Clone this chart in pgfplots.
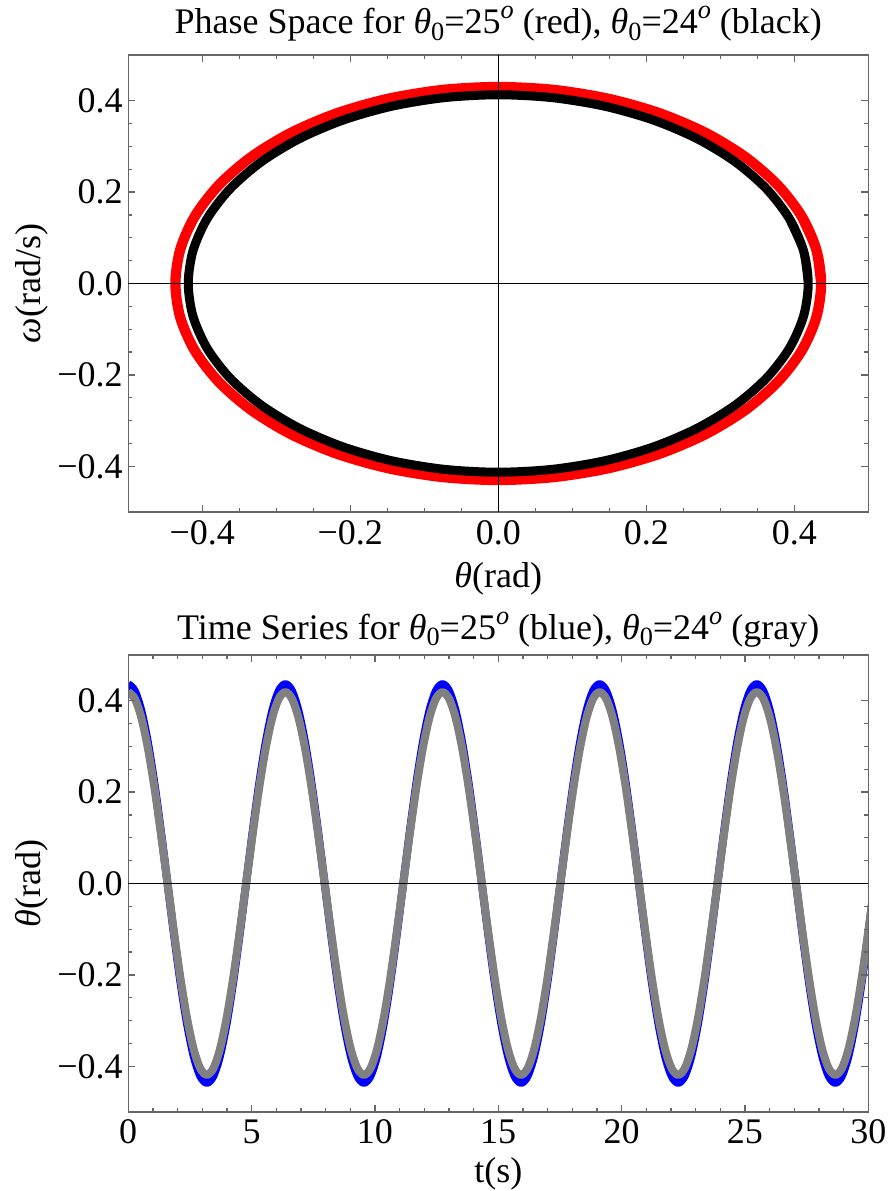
\documentclass[border=0pt]{standalone}
\usepackage{fontspec}
\setmainfont{Liberation Serif}
\usepackage{pgfplots}
\pgfplotsset{compat=1.18}
\usepackage{pgfplotstable}
\newcommand{\fs}{\fontsize{14.4}{17}\selectfont}
\newcommand{\thz}{\textit{θ}\raisebox{-0.4ex}{\fontsize{10.5}{12}\selectfont 0}}
\newcommand{\sups}{\raisebox{0.9ex}{\fontsize{10.5}{12}\selectfont\itshape o}}

\pgfplotstableread{
t blue gray
0.000 0.4363 0.4189
0.265 0.4214 0.4046
0.531 0.3778 0.3628
0.796 0.3085 0.2962
1.062 0.2182 0.2095
1.327 0.1129 0.1084
1.593 0 0
1.858 -0.1129 -0.1084
2.123 -0.2182 -0.2095
2.389 -0.3085 -0.2962
2.654 -0.3778 -0.3628
2.920 -0.4214 -0.4046
3.185 -0.4363 -0.4189
3.450 -0.4214 -0.4046
3.716 -0.3778 -0.3628
3.981 -0.3085 -0.2962
4.247 -0.2182 -0.2095
4.512 -0.1129 -0.1084
4.778 0 0
5.043 0.1129 0.1084
5.308 0.2182 0.2095
5.574 0.3085 0.2962
5.839 0.3778 0.3628
6.105 0.4214 0.4046
6.370 0.4363 0.4189
6.635 0.4214 0.4046
6.901 0.3778 0.3628
7.166 0.3085 0.2962
7.432 0.2182 0.2095
7.697 0.1129 0.1084
7.963 0 0
8.228 -0.1129 -0.1084
8.493 -0.2182 -0.2095
8.759 -0.3085 -0.2962
9.024 -0.3778 -0.3628
9.290 -0.4214 -0.4046
9.555 -0.4363 -0.4189
9.820 -0.4214 -0.4046
10.086 -0.3778 -0.3628
10.351 -0.3085 -0.2962
10.617 -0.2182 -0.2095
10.882 -0.1129 -0.1084
11.148 0 0
11.413 0.1129 0.1084
11.678 0.2182 0.2095
11.944 0.3085 0.2962
12.209 0.3778 0.3628
12.475 0.4214 0.4046
12.740 0.4363 0.4189
13.005 0.4214 0.4046
13.271 0.3778 0.3628
13.536 0.3085 0.2962
13.802 0.2182 0.2095
14.067 0.1129 0.1084
14.333 0 0
14.598 -0.1129 -0.1084
14.863 -0.2182 -0.2095
15.129 -0.3085 -0.2962
15.394 -0.3778 -0.3628
15.660 -0.4214 -0.4046
15.925 -0.4363 -0.4189
16.190 -0.4214 -0.4046
16.456 -0.3778 -0.3628
16.721 -0.3085 -0.2962
16.987 -0.2182 -0.2095
17.252 -0.1129 -0.1084
17.518 0 0
17.783 0.1129 0.1084
18.048 0.2182 0.2095
18.314 0.3085 0.2962
18.579 0.3778 0.3628
18.845 0.4214 0.4046
19.110 0.4363 0.4189
19.375 0.4214 0.4046
19.641 0.3778 0.3628
19.906 0.3085 0.2962
20.172 0.2182 0.2095
20.437 0.1129 0.1084
20.703 0 0
20.968 -0.1129 -0.1084
21.233 -0.2182 -0.2095
21.499 -0.3085 -0.2962
21.764 -0.3778 -0.3628
22.030 -0.4214 -0.4046
22.295 -0.4363 -0.4189
22.560 -0.4214 -0.4046
22.826 -0.3778 -0.3628
23.091 -0.3085 -0.2962
23.357 -0.2182 -0.2095
23.622 -0.1129 -0.1084
23.888 0 0
24.153 0.1129 0.1084
24.418 0.2182 0.2095
24.684 0.3085 0.2962
24.949 0.3778 0.3628
25.215 0.4214 0.4046
25.480 0.4363 0.4189
25.745 0.4214 0.4046
26.011 0.3778 0.3628
26.276 0.3085 0.2962
26.542 0.2182 0.2095
26.807 0.1129 0.1084
27.073 0 0
27.338 -0.1129 -0.1084
27.603 -0.2182 -0.2095
27.869 -0.3085 -0.2962
28.134 -0.3778 -0.3628
28.400 -0.4214 -0.4046
28.665 -0.4363 -0.4189
28.930 -0.4214 -0.4046
29.196 -0.3778 -0.3628
29.461 -0.3085 -0.2962
29.727 -0.2182 -0.2095
29.992 -0.1129 -0.1084
30.258 0 0
30.523 0.1129 0.1084
}\timeseries

\pgfplotsset{mystyle/.style={
  scale only axis, width=296pt, height=182.8pt,
  axis line style={draw=black!60, line width=0.5pt},
  tick style={draw=black!60, line width=0.5pt},
  tick align=inside,
  major tick length=2.8pt, minor tick length=1.7pt,
  tick label style={font=\fs},
  yticklabel style={inner xsep=0pt, xshift=-2pt},
  every axis y label/.style={at={(axis description cs:-0.119,0.5)}, rotate=90, anchor=base, font=\fs},
  every axis title shift=0pt,
  title style={at={(axis description cs:0.5,1)}, anchor=base, font=\fs},
  axis on top,
  ymin=-0.5, ymax=0.5,
  ytick={-0.4,-0.2,0,0.2,0.4},
  yticklabels={−0.4,−0.2,0.0,0.2,0.4},
  minor y tick num=3,
  extra y ticks={0}, extra y tick labels={},
  extra y tick style={grid=major, major grid style={black, line width=0.45pt}, tick style={draw=none}},
}}

\begin{document}
\begin{tikzpicture}
\useasboundingbox (-51.3pt,-271.6pt) rectangle (305.1pt,204.8pt);
\begin{axis}[mystyle,
  at={(0pt,0pt)}, anchor=south west,
  xmin=-0.5, xmax=0.5,
  xtick={-0.4,-0.2,0,0.2,0.4},
  xticklabels={−0.4,−0.2,0.0,0.2,0.4},
  minor x tick num=3,
  xticklabel style={anchor=base, yshift=-12.8pt},
  every axis x label/.style={at={(axis description cs:0.5,0)}, anchor=base, yshift=-30pt, font=\fs},
  extra x ticks={0}, extra x tick labels={},
  extra x tick style={grid=major, major grid style={black, line width=0.45pt}, tick style={draw=none}},
  title style={yshift=8.6pt},
  title={Phase Space for \thz=25\sups{} (red), \thz=24\sups{} (black)},
  xlabel={\textit{θ}(rad)},
  ylabel={\textit{ω}(rad/s)},
]
\addplot[red, line width=4.1pt, smooth, line join=round] coordinates {
(0.4363,0)(0.4297,0.0746)(0.4100,0.1471)(0.3778,0.2150)(0.3342,0.2764)(0.2805,0.3294)(0.2182,0.3724)(0.1492,0.4041)(0.0757,0.4235)(0,0.430)
(-0.0757,0.4235)(-0.1492,0.4041)(-0.2182,0.3724)(-0.2805,0.3294)(-0.3342,0.2764)(-0.3778,0.2150)(-0.4100,0.1471)(-0.4297,0.0746)(-0.4363,0)
(-0.4297,-0.0746)(-0.4100,-0.1471)(-0.3778,-0.2150)(-0.3342,-0.2764)(-0.2805,-0.3294)(-0.2182,-0.3724)(-0.1492,-0.4041)(-0.0757,-0.4235)(0,-0.430)
(0.0757,-0.4235)(0.1492,-0.4041)(0.2182,-0.3724)(0.2805,-0.3294)(0.3342,-0.2764)(0.3778,-0.2150)(0.4100,-0.1471)(0.4297,-0.0746)(0.4363,0)(0.4297,0.0746)(0.4100,0.1471)
};
\addplot[black, line width=3.6pt, smooth, line join=round] coordinates {
(0.4189,0)(0.4125,0.0717)(0.3936,0.1413)(0.3628,0.2065)(0.3209,0.2655)(0.2693,0.3164)(0.2095,0.3577)(0.1433,0.3881)(0.0727,0.4067)(0,0.413)
(-0.0727,0.4067)(-0.1433,0.3881)(-0.2095,0.3577)(-0.2693,0.3164)(-0.3209,0.2655)(-0.3628,0.2065)(-0.3936,0.1413)(-0.4125,0.0717)(-0.4189,0)
(-0.4125,-0.0717)(-0.3936,-0.1413)(-0.3628,-0.2065)(-0.3209,-0.2655)(-0.2693,-0.3164)(-0.2095,-0.3577)(-0.1433,-0.3881)(-0.0727,-0.4067)(0,-0.413)
(0.0727,-0.4067)(0.1433,-0.3881)(0.2095,-0.3577)(0.2693,-0.3164)(0.3209,-0.2655)(0.3628,-0.2065)(0.3936,-0.1413)(0.4125,-0.0717)(0.4189,0)(0.4125,0.0717)(0.3936,0.1413)
};
\end{axis}

\begin{axis}[mystyle,
  at={(0pt,-240pt)}, anchor=south west,
  xmin=0, xmax=30,
  xtick={0,5,10,15,20,25,30},
  xticklabels={0,5,10,15,20,25,30},
  minor x tick num=4,
  xticklabel style={anchor=base, yshift=-12.4pt},
  every axis x label/.style={at={(axis description cs:0.5,0)}, anchor=base, yshift=-28pt, font=\fs},
  title style={yshift=6.4pt},
  title={Time Series for \thz=25\sups{} (blue), \thz=24\sups{} (gray)},
  xlabel={t(s)},
  ylabel={\textit{θ}(rad)},
]
\addplot[blue, line width=3.2pt, smooth, line join=round] table[x=t, y=blue] {\timeseries};
\addplot[black!50, line width=3.2pt, smooth, line join=round] table[x=t, y=gray] {\timeseries};
\end{axis}
\end{tikzpicture}
\end{document}
